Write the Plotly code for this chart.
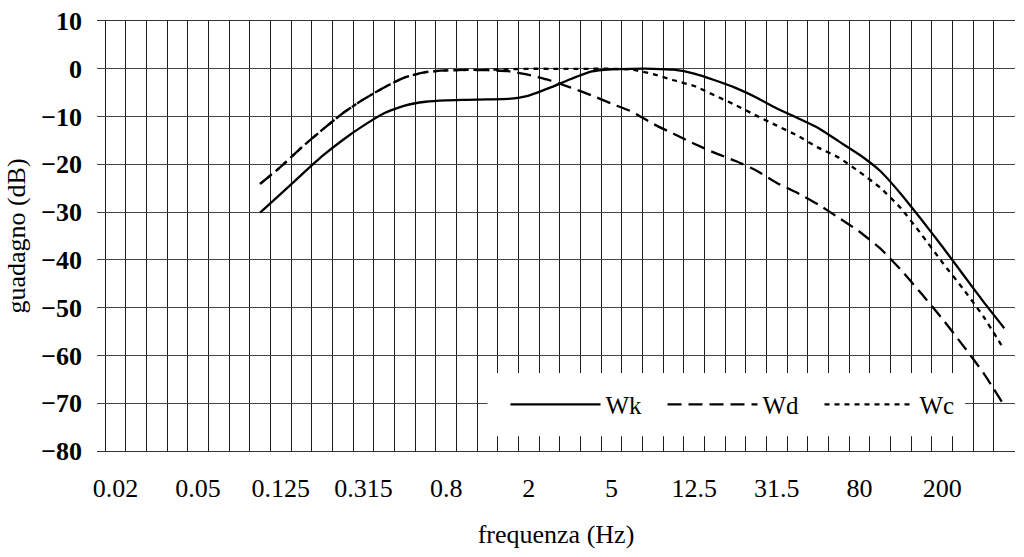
import plotly.graph_objects as go

# Third-octave band centre frequencies (Hz) - categories of the x axis
bands = ["0.02", "0.025", "0.0315", "0.04", "0.05", "0.063", "0.08", "0.1",
         "0.125", "0.16", "0.2", "0.25", "0.315", "0.4", "0.5", "0.63", "0.8",
         "1", "1.25", "1.6", "2", "2.5", "3.15", "4", "5", "6.3", "8", "10",
         "12.5", "16", "20", "25", "31.5", "40", "50", "63", "80", "100",
         "125", "160", "200", "250", "315", "400"]

tick_labels = ["0.02", "0.05", "0.125", "0.315", "0.8", "2", "5", "12.5",
               "31.5", "80", "200"]

N = None
# gain (dB) per band (None = not drawn)
wk = [N, N, N, N, N, N, N,
      -30.1, -26.2, -22.2, -18.3, -14.9, -11.9, -9.3, -7.7, -6.9, -6.6,
      -6.5, -6.4, -6.3, -5.6, -4.0, -2.2, -0.6, -0.1, 0.0, 0.0,
      -0.2, -1.0, -2.4, -4.0, -6.0, -8.3, -10.3, -12.4, -15.2, -18.0,
      -21.4, -26.2, -31.6, -37.2, -43.0, -48.8, -54.3]

wd = [N, N, N, N, N, N, N,
      -24.1, -20.5, -16.5, -12.8, -9.3, -6.4, -3.9, -1.8, -0.7, -0.35,
      -0.25, -0.3, -0.5, -1.3, -2.4, -3.9, -5.5, -7.3, -9.0, -11.5,
      -13.6, -15.7, -17.6, -19.3, -21.3, -23.9, -26.0, -28.4, -31.2, -34.1,
      -37.6, -42.1, -47.1, -52.3, -57.9, -63.7, -70.5]

wc = [N, N, N, N, N, N, N,
      -24.1, -20.5, -16.5, -12.8, -9.3, -6.4, -3.9, -1.8, -0.7, -0.35,
      -0.25, -0.2, -0.1, 0.0, 0.0, 0.0, 0.0, 0.0, -0.2, -1.1,
      -2.4, -3.6, -5.6, -7.6, -9.8, -11.9, -14.0, -16.5, -18.6, -21.6,
      -24.9, -29.2, -34.7, -40.5, -46.0, -51.9, -58.8]

series = [("Wk", wk, "solid", 2.3), ("Wd", wd, "14px,7px", 2.3), ("Wc", wc, "5px,5px", 2.3)]

FONT = "Liberation Serif"

fig = go.Figure()
# draw order: Wc first, then Wd, then Wk on top; legend order Wk, Wd, Wc
for name, vals, dash, w in reversed(series):
    fig.add_trace(go.Scatter(
        x=bands, y=vals, name=name, mode="lines",
        line=dict(color="black", width=w, dash=dash, shape="spline", smoothing=0.5),
        legendrank={"Wk": 1, "Wd": 2, "Wc": 3}[name],
    ))

ticktext = [b if b in tick_labels else "" for b in bands]

fig.update_layout(
    width=1024, height=557,
    margin=dict(l=97, r=9, t=21, b=106, autoexpand=False),
    paper_bgcolor="white", plot_bgcolor="white",
    font=dict(family=FONT, color="black", size=26),
    showlegend=True,
    legend=dict(
        orientation="h", x=0.445, xanchor="left", y=0.108, yanchor="middle",
        bgcolor="rgba(0,0,0,0)", borderwidth=0,
        font=dict(family=FONT, size=25, color="black"),
        itemwidth=90, entrywidth=52, traceorder="normal",
    ),
    xaxis=dict(
        type="category", categoryorder="array", categoryarray=bands,
        tickmode="array", tickvals=bands, ticktext=ticktext, tickangle=0,
        tickson="boundaries", ticks="", showgrid=True,
        gridcolor="#1a1a1a", gridwidth=1.4,
        range=[-0.89, 43.52], showline=True, mirror=True,
        linecolor="#333", linewidth=1.3, automargin=False,
        ticklabelstandoff=14,
        tickfont=dict(family=FONT, size=26, color="black"),
        title=dict(text="frequenza (Hz)", standoff=22,
                   font=dict(family=FONT, size=26, color="black")),
        zeroline=False,
    ),
    yaxis=dict(
        range=[-80, 10], tickmode="linear", tick0=-80, dtick=10,
        showgrid=True, gridcolor="#444", gridwidth=1.3, automargin=False,
        zeroline=False, ticks="", ticklabelstandoff=14,
        tickfont=dict(family=FONT, size=26, color="black", weight="bold"),
        title=dict(text="guadagno (dB)", standoff=8,
                   font=dict(family=FONT, size=26, color="black")),
    ),
    shapes=[dict(type="rect", xref="x", yref="y",
                 x0=18.0, x1=41.1, y0=-76.9, y1=-63.7,
                 fillcolor="white", line=dict(width=0), layer="between")],
)

fig.write_html("out.html")
